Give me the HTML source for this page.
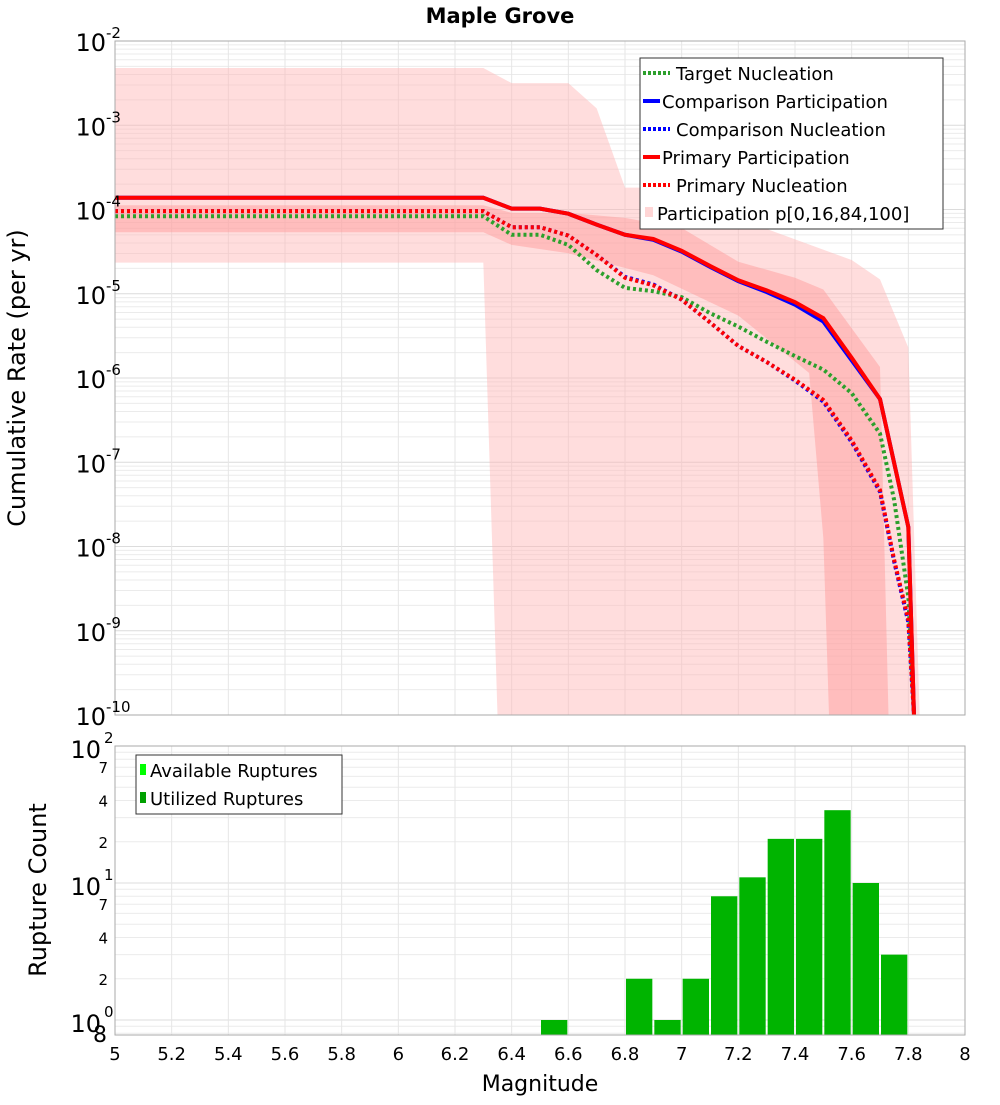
<!DOCTYPE html>
<html><head><meta charset="utf-8">
<style>
body{margin:0;background:#fff;}
svg text{font-family:"DejaVu Sans","Liberation Sans",sans-serif;}
</style></head>
<body>
<svg id="chart" width="1000" height="1100" xmlns="http://www.w3.org/2000/svg">
<text x="500" y="23" text-anchor="middle" font-size="21" font-weight="bold">Maple Grove</text>
<g id="topPlot"></g>
<g id="botPlot"></g>
</svg>
<script>
// ---- data (magnitude, log10 rate) ----
const mags = [5,5.1,5.2,5.3,5.4,5.5,5.6,5.7,5.8,5.9,6,6.1,6.2,6.3,6.4,6.5,6.6,6.7,6.8,6.9,7,7.1,7.2,7.3,7.4,7.5,7.6,7.7,7.8,7.82];
const primaryPart = [-3.86,-3.86,-3.86,-3.86,-3.86,-3.86,-3.86,-3.86,-3.86,-3.86,-3.86,-3.86,-3.86,-3.86,-3.99,-3.99,-4.05,-4.18,-4.30,-4.35,-4.49,-4.67,-4.84,-4.96,-5.10,-5.29,-5.76,-6.25,-7.77,-10];
const comparePart = [-3.86,-3.86,-3.86,-3.86,-3.86,-3.86,-3.86,-3.86,-3.86,-3.86,-3.86,-3.86,-3.86,-3.86,-3.99,-3.99,-4.05,-4.18,-4.30,-4.36,-4.50,-4.68,-4.85,-4.98,-5.13,-5.33,-5.79,-6.25,-7.77,-10];
const nucMags = [5,5.1,5.2,5.3,5.4,5.5,5.6,5.7,5.8,5.9,6,6.1,6.2,6.3,6.4,6.5,6.6,6.7,6.8,6.9,7,7.1,7.2,7.3,7.4,7.5,7.6,7.7,7.75,7.8,7.82];
const primaryNuc = [-4.02,-4.02,-4.02,-4.02,-4.02,-4.02,-4.02,-4.02,-4.02,-4.02,-4.02,-4.02,-4.02,-4.02,-4.21,-4.21,-4.31,-4.54,-4.81,-4.90,-5.07,-5.34,-5.62,-5.81,-6.02,-6.26,-6.74,-7.33,-8.16,-8.87,-10];
const compareNuc = [-4.02,-4.02,-4.02,-4.02,-4.02,-4.02,-4.02,-4.02,-4.02,-4.02,-4.02,-4.02,-4.02,-4.02,-4.21,-4.21,-4.31,-4.54,-4.80,-4.89,-5.07,-5.34,-5.62,-5.81,-6.03,-6.28,-6.76,-7.35,-8.18,-8.9,-10];
const targetNuc = [-4.08,-4.08,-4.08,-4.08,-4.08,-4.08,-4.08,-4.08,-4.08,-4.08,-4.08,-4.08,-4.08,-4.08,-4.30,-4.30,-4.42,-4.72,-4.93,-4.97,-5.04,-5.23,-5.39,-5.57,-5.74,-5.90,-6.18,-6.66,-7.45,-8.6,-10];
const outerMags = [5,6.3,6.4,6.6,6.7,6.8,6.9,7.6,7.7,7.8,7.84];
const outerHi = [-2.32,-2.32,-2.5,-2.5,-2.8,-3.74,-3.74,-4.6,-4.83,-5.64,-10];
const outerLoMags = [5,6.3,6.35];
const outerLo = [-4.63,-4.63,-10];
const innerMags = [5,6.3,6.4,6.6,6.8,7.0,7.2,7.4,7.5,7.7,7.73];
const innerHi = [-3.95,-3.95,-4.04,-4.04,-4.10,-4.22,-4.62,-4.81,-4.95,-5.87,-10];
const innerLoMags = [5,6.3,6.4,6.6,6.9,7.2,7.45,7.5,7.52];
const innerLo = [-4.27,-4.27,-4.42,-4.52,-4.78,-5.26,-5.94,-7.9,-10];
// bottom histogram
const binStarts = [6.5,6.8,6.9,7.0,7.1,7.2,7.3,7.4,7.5,7.6,7.7];
const binCounts = [1,2,1,2,8,11,21,21,34,10,3];
const xTicks = ["5","5.2","5.4","5.6","5.8","6","6.2","6.4","6.6","6.8","7","7.2","7.4","7.6","7.8","8"];
const yExps = [-2,-3,-4,-5,-6,-7,-8,-9,-10];

const NS="http://www.w3.org/2000/svg";
function mk(tag,attrs,parent){const e=document.createElementNS(NS,tag);for(const k in attrs)e.setAttribute(k,attrs[k]);parent.appendChild(e);return e;}
const L=115,R=965;
const X=m=>L+(m-5)/3*(R-L);
const T0=41,T1=715;
const Y=v=>T0+(-2-v)/8*(T1-T0);
const B0=746,B1=1035,DEC=137;
const YB=c=>B0+(2-Math.log10(c))*DEC;
const gTop=document.getElementById('topPlot'), gBot=document.getElementById('botPlot');

// top frame & grid
let bg=mk('rect',{x:L,y:T0,width:R-L,height:T1-T0,fill:'#fff',stroke:'none'},gTop);


for(let d=-10;d<-2;d++){for(let k=1;k<10;k++){const y=Y(d+Math.log10(k));
 const g=mk('line',{x1:L,x2:R,y1:y,y2:y,stroke:k==1?'#dcdcdc':'#ebebeb','stroke-width':1},gTop);
 
 }}
xTicks.forEach(t=>{const x=X(+t);const g=mk('line',{x1:x,x2:x,y1:T0,y2:T1,stroke:'#e6e6e6'},gTop);
 
 });

function band(mA,hi,mB,lo,fill,name){
 let pts=mA.map((m,i)=>X(m)+','+Y(hi[i]));
 for(let i=mB.length-1;i>=0;i--)pts.push(X(mB[i])+','+Y(lo[i]));
 const p=mk('polygon',{points:pts.join(' '),fill:fill},gTop);
 
 }
band(outerMags,outerHi,outerLoMags,outerLo,'rgba(255,180,180,0.45)','band-p0-p100');
band(innerMags,innerHi,innerLoMags,innerLo,'rgba(255,150,150,0.45)','band-p16-p84');

function line(ms,vs,color,dash,name){
 const d=ms.map((m,i)=>(i?'L':'M')+X(m)+','+Y(vs[i])).join(' ');
 const p=mk('path',{d:d,fill:'none',stroke:color,'stroke-width':4,'stroke-dasharray':dash?'3,3':'none'},gTop);
 
 }
line(nucMags,targetNuc,'#2ca02c',true,'target-nucleation-line');
line(mags,comparePart,'#0000ff',false,'comparison-participation-line');
line(nucMags,compareNuc,'#0000ff',true,'comparison-nucleation-line');
line(mags,primaryPart,'#ff0000',false,'primary-participation-line');
line(nucMags,primaryNuc,'#ff0000',true,'primary-nucleation-line');
let fr=mk('rect',{x:L,y:T0,width:R-L,height:T1-T0,fill:'none',stroke:'#aaa'},gTop);



yExps.forEach(e=>{const y=Y(e);
 const t=mk('text',{x:106,y:y+10,'text-anchor':'end','font-size':24},gTop);
 
 
 t.textContent='10';
 const s=mk('text',{x:106,y:y-3,'font-size':15},gTop);
 
 
 s.textContent=String(e);});
let yt=mk('text',{x:25,y:378,'text-anchor':'middle','font-size':24,transform:'rotate(-90 25 378)'},gTop);


yt.textContent='Cumulative Rate (per yr)';

// top legend
let lg=mk('g',{},gTop);


let lr=mk('rect',{x:640,y:58,width:303,height:171,fill:'#fff',stroke:'#333'},lg);


const legItems=[['Target Nucleation','#2ca02c',true,676],['Comparison Participation','#0000ff',false,662],['Comparison Nucleation','#0000ff',true,676],['Primary Participation','#ff0000',false,662],['Primary Nucleation','#ff0000',true,676]];
legItems.forEach((it,i)=>{const y=73+i*28;
 const l=mk('line',{x1:643,x2:i%2?660:670,y1:y,y2:y,stroke:it[1],'stroke-width':4,'stroke-dasharray':it[2]?'3,2':'none'},lg);
 
 
 const t=mk('text',{x:it[3],y:y+7,'font-size':18},lg);
 
 
 t.textContent=it[0];});
let ls=mk('rect',{x:645,y:207,width:8,height:10,fill:'#ffd6d6'},lg);


let lt=mk('text',{x:657,y:220,'font-size':18},lg);


lt.textContent='Participation p[0,16,84,100]';

// bottom plot
let bb=mk('rect',{x:L,y:B0,width:R-L,height:B1-B0,fill:'#fff'},gBot);


for(let d=-1;d<2;d++){for(let k=1;k<10;k++){const c=Math.pow(10,d)*k;const y=YB(c);if(y>B1||y<B0)continue;
 const g=mk('line',{x1:L,x2:R,y1:y,y2:y,stroke:k==1?'#dcdcdc':'#ebebeb'},gBot);
 
 }}
xTicks.forEach(t=>{const x=X(+t);const g=mk('line',{x1:x,x2:x,y1:B0,y2:B1,stroke:'#e6e6e6'},gBot);
 
 });
binStarts.forEach((m,i)=>{const x0=X(m)+1,x1=X(m+0.1)-1,y=YB(binCounts[i]);
 const r=mk('rect',{x:x0,y:y,width:x1-x0,height:B1-y,fill:'#00b400'},gBot);
 
 });
let bf=mk('rect',{x:L,y:B0,width:R-L,height:B1-B0,fill:'none',stroke:'#aaa'},gBot);



[[100,'2'],[10,'1'],[1,'0']].forEach(p=>{const y=YB(p[0]);
 const t=mk('text',{x:101,y:y+12,'text-anchor':'end','font-size':24},gBot);
 
 
 t.textContent='10';
 const s=mk('text',{x:104,y:y-3,'font-size':15},gBot);
 
 
 s.textContent=p[1];});
[[70,'7'],[40,'4'],[20,'2'],[7,'7'],[4,'4'],[2,'2']].forEach(p=>{const y=YB(p[0]);
 const t=mk('text',{x:108,y:y+6,'text-anchor':'end','font-size':15},gBot);
 
 
 t.textContent=p[1];});
let e8=mk('text',{x:107,y:1042,'text-anchor':'end','font-size':22},gBot);


e8.textContent='8';
xTicks.forEach(t=>{const x=X(+t);const s=mk('text',{x:x,y:1060,'text-anchor':'middle','font-size':18},gBot);
 
 
 s.textContent=t;});
let xt=mk('text',{x:540,y:1091,'text-anchor':'middle','font-size':22},gBot);


xt.textContent='Magnitude';
let byt=mk('text',{x:46,y:890,'text-anchor':'middle','font-size':24,transform:'rotate(-90 46 890)'},gBot);


byt.textContent='Rupture Count';
let bl=mk('g',{},gBot);


let blr=mk('rect',{x:136,y:755,width:206,height:59,fill:'#fff',stroke:'#333'},bl);


[['Available Ruptures','#00ff00',770],['Utilized Ruptures','#00a000',798]].forEach(p=>{
 const r=mk('rect',{x:140,y:p[2]-6,width:6,height:11,fill:p[1]},bl);
 
 
 const t=mk('text',{x:150,y:p[2]+7,'font-size':18},bl);
 
 
 t.textContent=p[0];});
</script>
</body></html>
